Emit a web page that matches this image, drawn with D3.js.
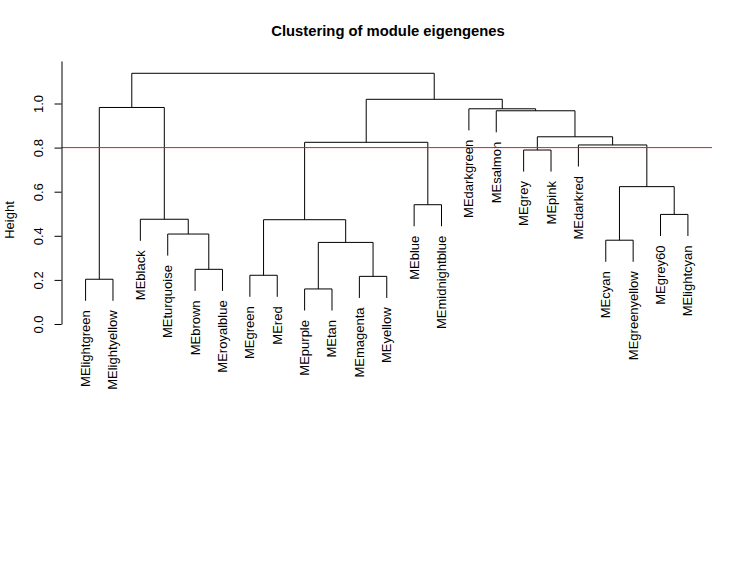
<!DOCTYPE html>
<html>
<head>
<meta charset="utf-8">
<script src="https://cdn.jsdelivr.net/npm/d3@7"></script>
<style>
body { margin: 0; background: #fff; }
text { font-family: "Liberation Sans", Arial, sans-serif; fill: #000; }
</style>
</head>
<body>
<div id="chart"></div>
<script>

var width = 744,
    height = 575;

// leaves in dendrogram order
var leafLabels = ["MElightgreen", "MElightyellow", "MEblack", "MEturquoise", "MEbrown", "MEroyalblue",
    "MEgreen", "MEred", "MEpurple", "MEtan", "MEmagenta", "MEyellow", "MEblue", "MEmidnightblue",
    "MEdarkgreen", "MEsalmon", "MEgrey", "MEpink", "MEdarkred", "MEcyan", "MEgreenyellow",
    "MEgrey60", "MElightcyan"];

// R style merge table: -k = leaf k, +k = merge row k
var mergeA = [-9, -1, -11, -7, -5, -20, 1, -4, 4, -3, -22, -13, 6, -17, -19, 9, 14, -16, -15, 2, 16, 20];
var mergeB = [-10, -2, -12, -8, -6, -21, 3, 5, 7, 8, -23, -14, 11, -18, 13, 12, 15, 17, 18, 10, 19, 21];
var mergeHeight = [0.159, 0.203, 0.216, 0.221, 0.248, 0.380, 0.370, 0.408, 0.473, 0.475, 0.497, 0.541,
    0.623, 0.789, 0.812, 0.824, 0.849, 0.967, 0.976, 0.982, 1.019, 1.137];

var tickValues = [0, 0.2, 0.4, 0.6, 0.8, 1.0];
var cutHeight = 0.8;
var hang = 0.1;

var n = leafLabels.length;
var hangH = hang * (d3.max(mergeHeight) - d3.min(mergeHeight));

var svg = d3.select("#chart")
    .append("svg")
    .attr("width", width)
    .attr("height", height);

var pad = 0.04 * (n - 1);
var x = d3.scaleLinear()
    .domain([1 - pad, n + pad])
    .range([61.5, 712]);

var y = d3.scaleLinear()
    .domain([0, 1.193])
    .range([324, 324 - 1.193 * 220.5]);

// x position of each merge = mean of its two children
var mergeX = [];
function nodeX(k) {
    return k < 0 ? -k : mergeX[k - 1];
}
for (var i = 0; i < mergeA.length; i++) {
    mergeX[i] = (nodeX(mergeA[i]) + nodeX(mergeB[i])) / 2;
}

var g = svg.append("g")
    .attr("fill", "none")
    .attr("stroke", "#000")
    .attr("stroke-width", 1);

var leafBottom = [];

for (var i = 0; i < mergeA.length; i++) {
    var h = mergeHeight[i];
    var kids = [mergeA[i], mergeB[i]];
    var pts = kids.map(function (k) {
        var bottom;
        if (k < 0) {
            bottom = h - hangH;
            leafBottom[-k - 1] = bottom;
        } else {
            bottom = mergeHeight[k - 1];
        }
        return [nodeX(k), bottom];
    });
    var path = d3.path();
    path.moveTo(x(pts[0][0]), y(pts[0][1]));
    path.lineTo(x(pts[0][0]), y(h));
    path.lineTo(x(pts[1][0]), y(h));
    path.lineTo(x(pts[1][0]), y(pts[1][1]));
    g.append("path").attr("d", path.toString());
}

// leaf labels
svg.append("g")
    .selectAll("text")
    .data(leafLabels)
    .enter()
    .append("text")
    .attr("transform", function (d, i) {
        return "translate(" + (x(i + 1) + 4.5) + "," + (y(leafBottom[i]) + 9.5) + ")rotate(-90)";
    })
    .style("text-anchor", "end")
    .style("font-size", "13px")
    .text(function (d) { return d; });

// cut line
svg.append("line")
    .attr("x1", x.range()[0])
    .attr("x2", x.range()[1])
    .attr("y1", y(cutHeight))
    .attr("y2", y(cutHeight))
    .attr("stroke", "#e41a1c")
    .attr("stroke-width", 1);

// y axis
var axis = svg.append("g")
    .attr("transform", "translate(61.5,0)")
    .call(d3.axisLeft(y).tickValues(tickValues).tickSize(7).tickSizeOuter(0)
        .tickFormat(d3.format(".1f")));

axis.select(".domain").attr("stroke", "#000");
axis.selectAll(".tick line").attr("stroke", "#000");
axis.selectAll(".tick text")
    .attr("transform", "rotate(-90)")
    .attr("x", 0)
    .attr("y", -19)
    .attr("dy", 0)
    .style("text-anchor", "middle")
    .style("font-size", "13px")
    .style("font-family", "Liberation Sans, Arial, sans-serif")
    .attr("fill", "#000");

svg.append("text")
    .attr("transform", "translate(13.5,220)rotate(-90)")
    .style("text-anchor", "middle")
    .style("font-size", "13px")
    .text("Height");

svg.append("text")
    .attr("x", 388)
    .attr("y", 36)
    .style("text-anchor", "middle")
    .style("font-size", "14.8px")
    .style("font-weight", "bold")
    .text("Clustering of module eigengenes");

</script>
</body>
</html>
